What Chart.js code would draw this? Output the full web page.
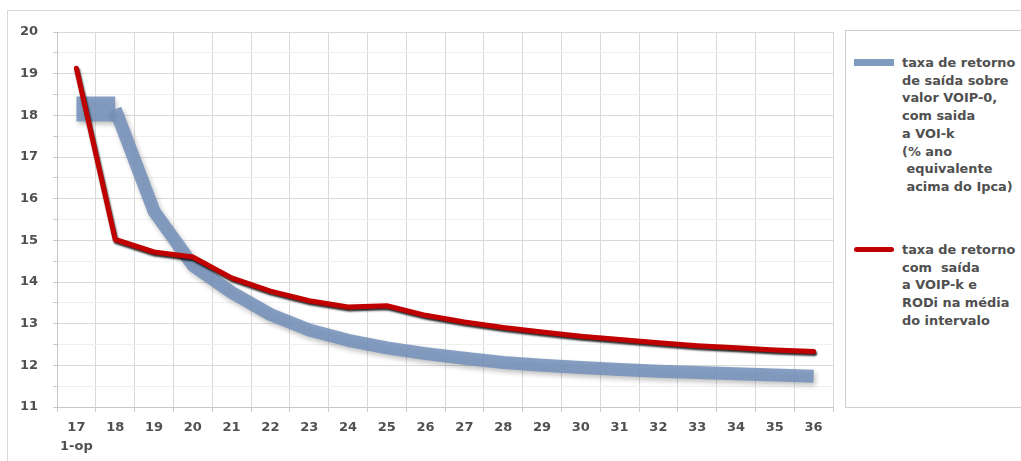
<!DOCTYPE html>
<html>
<head>
<meta charset="utf-8">
<script src="https://cdn.jsdelivr.net/npm/chart.js@4.4.1/dist/chart.umd.min.js"></script>
<style>
  html,body{margin:0;padding:0;background:#fff;overflow:hidden;}
  #wrap{position:relative;width:1021px;height:461px;}
  #frame{position:absolute;left:7px;top:10px;width:1030px;height:470px;border-left:1px solid #d9d9d9;border-top:1px solid #d9d9d9;}
  canvas{position:absolute;left:0;top:0;}
  #legend{position:absolute;left:845px;top:30px;width:200px;height:376px;border:1px solid #cfcfcf;background:#fff;
    font-family:"DejaVu Sans",sans-serif;font-weight:bold;font-size:12.9px;color:#505050;line-height:17.7px;}
  .item{position:absolute;left:0;}
  .sw{position:absolute;left:8px;width:40px;}
  .txt{position:absolute;left:56px;white-space:pre;}
</style>
</head>
<body>
<div id="wrap">
  <div id="frame"></div>
  <canvas id="c" width="1021" height="461"></canvas>
  <div id="legend"></div>
</div>
<script>
/* ---------- 資料 ---------- */
const years = ['17','18','19','20','21','22','23','24','25','26','27','28','29','30','31','32','33','34','35','36'];
const firstSub = '1-op';
const voipZero = [18.15,18.15,15.7,14.4,13.75,13.22,12.85,12.6,12.42,12.28,12.17,12.07,12.0,11.95,11.9,11.86,11.83,11.8,11.77,11.74];
const voipK    = [19.13,15.02,14.72,14.6,14.1,13.78,13.55,13.4,13.43,13.2,13.04,12.91,12.8,12.7,12.62,12.54,12.47,12.42,12.37,12.33];
const blueName = ['taxa de retorno','de saída sobre','valor VOIP-0,','com saida','a VOI-k','(% ano',' equivalente',' acima do Ipca)'];
const redName  = ['taxa de retorno','com  saída','a VOIP-k e','RODi na média','do intervalo'];

const BLUE = 'rgba(118,146,186,0.88)', RED = '#c00000';

/* ---------- 小工具 ---------- */
const el=(t,c)=>{const e=document.createElement(t); if(c)e.className=c; return e;};

// 線條陰影
const shadowPlugin = {
  id:'shadow',
  beforeDatasetDraw(chart, args){
    const ctx = chart.ctx; ctx.save();
    if (args.index===0){ ctx.shadowColor='rgba(0,0,0,0.85)'; ctx.shadowBlur=2; ctx.shadowOffsetX=1; ctx.shadowOffsetY=2; }
    else { ctx.shadowColor='rgba(0,0,0,0.28)'; ctx.shadowBlur=5; ctx.shadowOffsetX=2; ctx.shadowOffsetY=3; }
  },
  afterDatasetDraw(chart){ chart.ctx.restore(); }
};

Chart.defaults.font.family = '"DejaVu Sans", sans-serif';
Chart.defaults.font.weight = 'bold';
Chart.defaults.font.size = 13;
Chart.defaults.color = '#505050';

const labels = years.map((y,i)=> i===0 ? [y, firstSub] : y);

new Chart(document.getElementById('c'), {
  type:'line',
  data:{
    labels,
    datasets:[
      { label: redName.join(' '), data: voipK, borderColor: RED, borderWidth: 5,
        borderCapStyle:'round', borderJoinStyle:'round', pointRadius:0, tension:0, order:0 },
      { label: blueName.join(' '), data: voipZero, borderColor: BLUE, borderWidth: 13,
        borderCapStyle:'butt', borderJoinStyle:'round', pointRadius:0, tension:0, order:1,
        segment:{ borderWidth: c => c.p0DataIndex===0 ? 25 : 13 } }
    ]
  },
  options:{
    responsive:false, animation:false,
    layout:{ padding:{ top:32, right:188, left:0, bottom:0 } },
    plugins:{ legend:{display:false}, tooltip:{enabled:false} },
    scales:{
      x:{
        offset:true,
        grid:{ offset:true, color:'#d9d9d9', tickLength:5, tickColor:'#c8c8c8' },
        border:{ color:'#c8c8c8' },
        ticks:{ maxRotation:0, autoSkip:false, padding:7, font:{ size:13, lineHeight:1.4 } },
        afterFit:s=>{ s.height = 54; }
      },
      y:{
        min:11, max:20,
        grid:{ color:c=> Number.isInteger(c.tick.value) ? '#d9d9d9' : '#efefef', tickLength:4, tickColor:'#c8c8c8' },
        border:{ color:'#c8c8c8' },
        ticks:{ stepSize:0.5, padding:15, callback:v=> Number.isInteger(v) ? v : '' },
        afterFit:s=>{ s.width = 57; }
      }
    }
  },
  plugins:[shadowPlugin]
});

/* ---------- 圖例（HTML） ---------- */
const legend = document.getElementById('legend');
function addItem(lines, top, color, h, radius){
  const it = el('div','item'); it.style.top = top+'px';
  const sw = el('div','sw'); sw.style.background = color; sw.style.height = h+'px';
  sw.style.top = (8.5 - h/2)+'px'; sw.style.borderRadius = radius;
  const tx = el('div','txt'); tx.textContent = lines.join('\n'); tx.style.top = '0px';
  it.append(sw, tx); legend.append(it);
}
addItem(blueName, 23, 'rgb(128,155,192)', 7, '0');
addItem(redName, 210, RED, 5, '3px');
</script>
</body>
</html>
